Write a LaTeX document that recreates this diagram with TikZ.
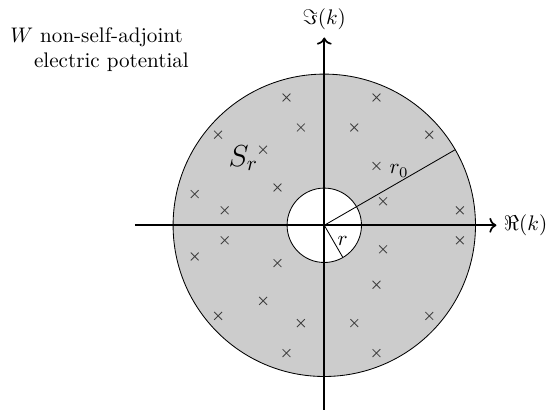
\documentclass[tikz,border=0pt]{standalone}
\usepackage{amsmath}
\usepackage{amssymb}
\usepackage{tikz}
\usepackage{xcolor}
\usetikzlibrary{arrows.meta}

\begin{document}
\begin{tikzpicture}[>=To,
    xmark/.style={black!75,line width=0.4pt},
    axis/.style={thick,->}]
    \useasboundingbox (-5.405,-3.078) rectangle (3.762,3.755);
    \coordinate (O) at (0,0);
    % annulus
    \filldraw[fill=gray!40,draw=black,line width=0.4pt] (O) circle (2.52);
    \filldraw[fill=white,draw=black,line width=0.4pt] (O) circle (0.62);
    % radii
    \coordinate (Rout) at (30:2.52);
    \coordinate (Rin) at (-60:0.62);
    \draw[line width=0.4pt] (O) -- (Rout);
    \draw[line width=0.4pt] (O) -- (Rin);
    % eigenvalues, mirrored in the real axis
    \foreach \x/\y in {-0.63/2.13,0.87/2.13,-1.77/1.51,-0.39/1.63,0.50/1.63,
                       1.75/1.51,-1.02/1.26,0.87/0.99,-0.78/0.63,-2.16/0.52,
                       0.98/0.40,-1.66/0.25,2.26/0.25}{
        \foreach \s in {1,-1}{
            \draw[xmark,shift={(\x,{\s*\y})}] (-0.065,-0.065) -- (0.065,0.065)
                (-0.065,0.065) -- (0.065,-0.065);
        }
    }
    % axes
    \coordinate (xl) at (-3.155,0);
    \coordinate (xr) at (2.87,0);
    \coordinate (yb) at (0,-3.08);
    \coordinate (yt) at (0,3.13);
    \draw[axis] (xl) -- (xr);
    \draw[axis] (yb) -- (yt);
    \node[right] (re) at (xr) {$\Re(k)$};
    \node[above] (im) at (yt) {$\Im(k)$};
    % labels
    \node (r0) at (1.245,0.905) {$r_0$};
    \node (rl) at (0.308,-0.258) {$r$};
    \node (Sr) at (-1.35,1.12) {\Large $S_r$};
    \node[anchor=north west,inner sep=0pt] (W) at (-5.24,3.296) {$W$};
    \node[anchor=north,align=center,inner sep=0pt] (Wtext) at (-3.547,3.30)
        {non-self-adjoint\\electric potential};
\end{tikzpicture}
\end{document}
